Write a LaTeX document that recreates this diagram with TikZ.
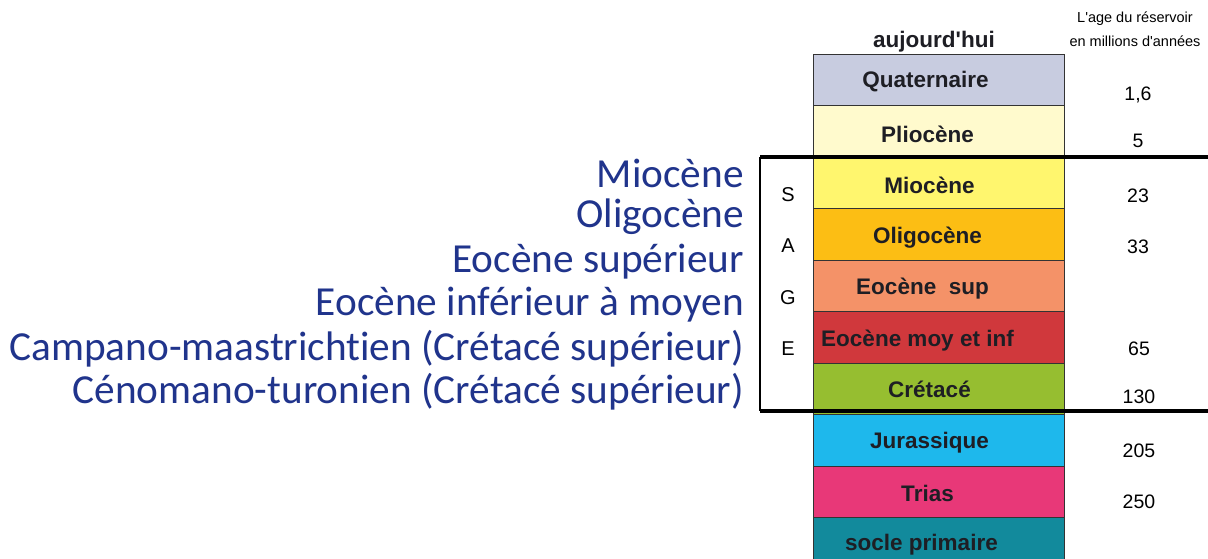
\documentclass[tikz,border=0pt]{standalone}
\usepackage{fontspec}
\setmainfont{Liberation Sans}
\newfontfamily\labelfont[RawFeature={-liga}]{Carlito}
\definecolor{navytext}{RGB}{32,52,140}
\definecolor{cQuat}{RGB}{200,204,224}
\definecolor{cPlio}{RGB}{255,250,205}
\definecolor{cMio}{RGB}{255,246,110}
\definecolor{cOligo}{RGB}{252,190,20}
\definecolor{cEoSup}{RGB}{244,146,104}
\definecolor{cEoInf}{RGB}{208,56,60}
\definecolor{cCret}{RGB}{150,190,48}
\definecolor{cJura}{RGB}{30,184,236}
\definecolor{cTrias}{RGB}{232,56,120}
\definecolor{cSocle}{RGB}{18,138,156}
\definecolor{labeltext}{RGB}{30,30,36}
\begin{document}
\begin{tikzpicture}[x=1pt,y=-1pt,
  layer/.style={draw=black!80, line width=0.8pt, minimum width=251pt,
    minimum height=51.5pt, inner sep=0pt, anchor=north, outer sep=0pt},
  layertext/.style={font=\fontsize{22.5}{26}\selectfont\bfseries, text=labeltext, inner sep=0pt},
  agetext/.style={font=\fontsize{19.5}{22}\selectfont, inner sep=0pt},
  sagetext/.style={font=\fontsize{20}{22}\selectfont, inner sep=0pt},
  epochtext/.style={font=\labelfont\fontsize{41.3}{44}\selectfont, text=navytext,
    anchor=east, inner sep=0pt},
  frameline/.style={line width=3.2pt, black}]
\useasboundingbox (0,0) rectangle (1208,559);
\clip (0,0) rectangle (1208,559);
\fill[white] (0,0) rectangle (1208,559);

% stratigraphic column
\node[layer, fill=cQuat]  (quat)  at (938.5,54) {};
\node[layer, fill=cPlio]  (plio)  at (quat.south) {};
\node[layer, fill=cMio]   (mio)   at (plio.south) {};
\node[layer, fill=cOligo] (oligo) at (mio.south) {};
\node[layer, fill=cEoSup] (eosup) at (oligo.south) {};
\node[layer, fill=cEoInf] (eoinf) at (eosup.south) {};
\node[layer, fill=cCret]  (cret)  at (eoinf.south) {};
\node[layer, fill=cJura]  (jura)  at (cret.south) {};
\node[layer, fill=cTrias] (trias) at (jura.south) {};
\node[layer, fill=cSocle] (socle) at (trias.south) {};

\node[layertext] (tquat)  at ([xshift=-13pt,yshift=-2pt]quat.center)  {Quaternaire};
\node[layertext] (tplio)  at ([xshift=-11pt,yshift=-3pt]plio.center)  {Pliocène};
\node[layertext] (tmio)   at ([xshift=-9pt,yshift=-3pt]mio.center)    {Miocène};
\node[layertext] (toligo) at ([xshift=-11pt,yshift=-3pt]oligo.center) {Oligocène};
\node[layertext] (teosup) at ([xshift=-16pt,yshift=-3pt]eosup.center) {Eocène\ \ sup};
\node[layertext] (teoinf) at ([xshift=-21pt,yshift=-3pt]eoinf.center) {Eocène moy et inf};
\node[layertext] (tcret)  at ([xshift=-9pt,yshift=-1pt]cret.center)   {Crétacé};
\node[layertext] (tjura)  at ([xshift=-9pt,yshift=-2pt]jura.center)   {Jurassique};
\node[layertext] (ttrias) at ([xshift=-11pt,yshift=-2pt]trias.center) {Trias};
\node[layertext] (tsocle) at ([xshift=-17pt,yshift=-1pt]socle.center) {socle primaire};

% headings
\node[layertext] (today) at (934,42) {aujourd\textquotesingle hui};
\node[font=\fontsize{14.5}{16}\selectfont, inner sep=0pt] (agehead1) at (1135,19) {L\textquotesingle age du réservoir};
\node[font=\fontsize{14.5}{16}\selectfont, inner sep=0pt] (agehead2) at (1135,41) {en millions d\textquotesingle années};

% ages
\node[agetext] (a1) at (1138,95)  {1,6};
\node[agetext] (a2) at (1138,141) {5};
\node[agetext] (a3) at (1138,196) {23};
\node[agetext] (a4) at (1138,247) {33};
\node[agetext] (a5) at (1139,349) {65};
\node[agetext] (a6) at (1139,397) {130};
\node[agetext] (a7) at (1139,451) {205};
\node[agetext] (a8) at (1139,502) {250};

% SAGE interval frame
\coordinate (fTL) at (760,157);
\coordinate (fBL) at (760,411);
\coordinate (fTR) at (1208,157);
\coordinate (fBR) at (1208,411);
\draw[line width=1.6pt] (fTL) -- (fBL);
\draw[frameline] (fTL) -- (fTR);
\draw[frameline] (fBL) -- (fBR);

\node[sagetext] (sS) at (788,195) {S};
\node[sagetext] (sA) at (788,246) {A};
\node[sagetext] (sG) at (788,298) {G};
\node[sagetext] (sE) at (788,349) {E};

% reservoir epochs
\node[epochtext] (e1) at (744,173) {Miocène};
\node[epochtext] (e2) at (744,217) {Oligocène};
\node[epochtext] (e3) at (744,262) {Eocène supérieur};
\node[epochtext] (e4) at (744,305) {Eocène inférieur à moyen};
\node[epochtext] (e5) at (744,349) {Campano-maastrichtien (Crétacé supérieur)};
\node[epochtext] (e6) at (744,392) {Cénomano-turonien (Crétacé supérieur)};
\end{tikzpicture}
\end{document}
